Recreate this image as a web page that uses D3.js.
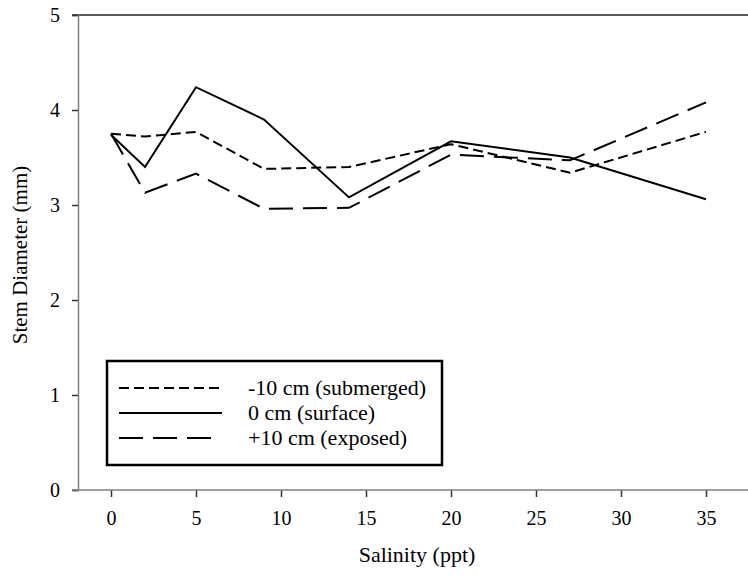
<!DOCTYPE html>
<html>
<head>
<meta charset="utf-8">
<script src="https://cdn.jsdelivr.net/npm/d3@7"></script>
<style>
  html, body { margin: 0; padding: 0; background: #fff; }
  svg { display: block; }
</style>
</head>
<body>
<svg id="chart" width="748" height="579"></svg>
<script>
// Salinity treatments (ppt)
const salinity = [0, 2, 5, 9, 14, 20, 27, 35];

// Mean stem diameter (mm) per planting elevation
const submerged = [3.75, 3.72, 3.77, 3.38, 3.40, 3.64, 3.34, 3.77];
const surface   = [3.74, 3.40, 4.24, 3.90, 3.08, 3.67, 3.50, 3.06];
const exposed   = [3.75, 3.13, 3.33, 2.96, 2.97, 3.53, 3.47, 4.08];

const seriesNames = ["-10 cm (submerged)", "0 cm (surface)", "+10 cm (exposed)"];
const xTicks = [0, 5, 10, 15, 20, 25, 30, 35];
const yTicks = [0, 1, 2, 3, 4, 5];

const SERIF = '"Liberation Serif", Tinos, "Times New Roman", "DejaVu Serif", "Noto Serif", serif';

const svg = d3.select("#chart").attr("font-family", SERIF);

const x = d3.scaleLinear().domain([0, 35]).range([111, 706]);
const y = d3.scaleLinear().domain([0, 5]).range([490, 15]);

const axisColor = "#808080";

// top border line
svg.append("line")
  .attr("x1", 72).attr("x2", 748)
  .attr("y1", y(5)).attr("y2", y(5))
  .attr("stroke", "#222").attr("stroke-width", 1.5);

// left axis
const yAxis = svg.append("g")
  .attr("transform", "translate(78,0)")
  .call(d3.axisLeft(y).tickValues(yTicks).tickSize(6).tickPadding(12).tickFormat(d3.format("d")))
  .attr("font-family", SERIF).attr("font-size", 20);
yAxis.select(".domain").attr("stroke", axisColor).attr("stroke-width", 1.5);
yAxis.selectAll(".tick line").attr("stroke", "#333").attr("stroke-width", 1.5);
yAxis.selectAll(".tick text").attr("fill", "#000");

// bottom axis
const xAxis = svg.append("g")
  .attr("transform", "translate(0,490)")
  .call(d3.axisBottom(x).tickValues(xTicks).tickSize(7).tickPadding(14).tickFormat(d3.format("d")))
  .attr("font-family", SERIF).attr("font-size", 20);
xAxis.select(".domain").remove();
xAxis.append("line")
  .attr("x1", 72).attr("x2", 748).attr("y1", 0).attr("y2", 0)
  .attr("stroke", axisColor).attr("stroke-width", 1.5);
xAxis.selectAll(".tick line").attr("stroke", "#333").attr("stroke-width", 1.5);
xAxis.selectAll(".tick text").attr("fill", "#000");

// axis titles
svg.append("text")
  .attr("x", 417).attr("y", 562)
  .attr("text-anchor", "middle")
  .attr("font-size", 22)
  .text("Salinity (ppt)");

svg.append("text")
  .attr("transform", "translate(27,255) rotate(-90)")
  .attr("text-anchor", "middle")
  .attr("font-size", 21)
  .text("Stem Diameter (mm)");

// series lines
const series = [
  { name: seriesNames[0], values: submerged, dash: "10,5" },
  { name: seriesNames[1], values: surface,   dash: null },
  { name: seriesNames[2], values: exposed,   dash: "24,10" }
];

const line = d3.line()
  .x((d, i) => x(salinity[i]))
  .y(d => y(d));

svg.append("g").selectAll("path")
  .data(series)
  .join("path")
  .attr("d", d => line(d.values))
  .attr("fill", "none")
  .attr("stroke", "#000")
  .attr("stroke-width", 2)
  .attr("stroke-dasharray", d => d.dash);

// legend
const legend = svg.append("g");
legend.append("rect")
  .attr("x", 107).attr("y", 361)
  .attr("width", 335).attr("height", 104)
  .attr("fill", "#fff")
  .attr("stroke", "#000").attr("stroke-width", 2.5);

const rows = legend.selectAll("g.row")
  .data(series)
  .join("g")
  .attr("class", "row")
  .attr("transform", (d, i) => `translate(0,${388 + i * 25})`);

rows.append("line")
  .attr("x1", 119).attr("x2", d => d.dash === "24,10" ? 211 : 222)
  .attr("y1", 0).attr("y2", 0)
  .attr("stroke", "#000").attr("stroke-width", 2)
  .attr("stroke-dasharray", d => d.dash);

rows.append("text")
  .attr("x", 248).attr("y", 7)
  .attr("font-size", 22)
  .attr("fill", "#000")
  .text(d => d.name);
</script>
</body>
</html>
